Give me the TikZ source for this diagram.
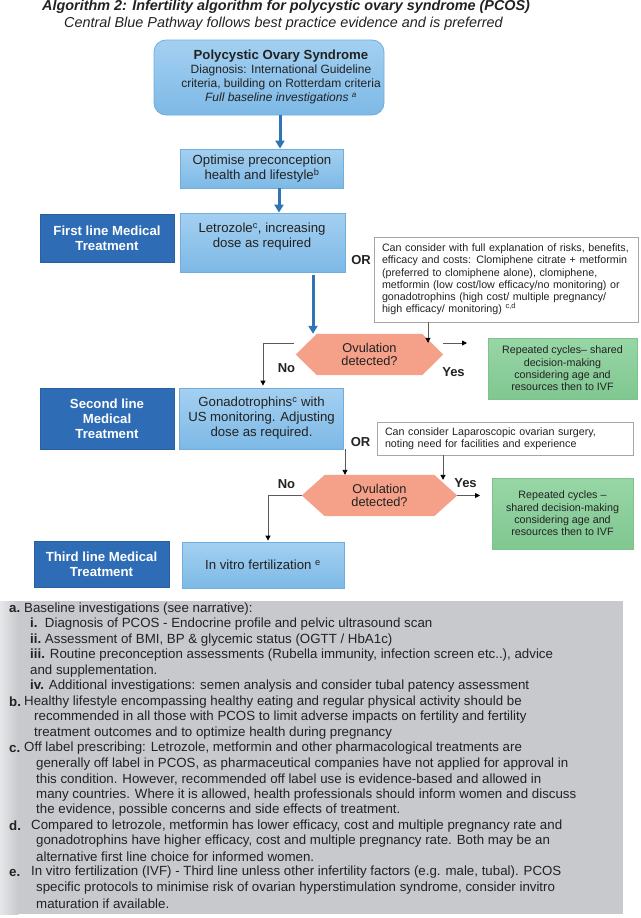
\documentclass[tikz,border=0pt]{standalone}
\usepackage{fontspec}
\setmainfont{Liberation Sans}
\usetikzlibrary{arrows.meta,backgrounds,calc}
\definecolor{lbtop}{HTML}{A4D0F1}
\definecolor{lbbot}{HTML}{7DB9E6}
\definecolor{lbdraw}{HTML}{6FAEDF}
\definecolor{dblue}{HTML}{2E6DB6}
\definecolor{dbdraw}{HTML}{2A609F}
\definecolor{hexfill}{HTML}{F5A089}
\definecolor{gtop}{HTML}{98D6A6}
\definecolor{gbot}{HTML}{80C791}
\definecolor{gdraw}{HTML}{7CC38C}
\definecolor{arrblue}{HTML}{2F75B5}
\definecolor{txt}{HTML}{222222}
\definecolor{notedraw}{HTML}{A6A6A6}
\definecolor{fngray}{HTML}{C7C9CD}
\definecolor{fnlight}{HTML}{E6E7E9}
\definecolor{thinline}{HTML}{5A5A5A}
\newcommand\fsz[2]{\fontsize{#1}{#2}\selectfont}
\begin{document}
\begin{tikzpicture}[x=1pt,y=-1pt,
 every node/.style={inner sep=0pt, text=txt},
 lbox/.style={draw=lbdraw, line width=0.8pt, top color=lbtop, bottom color=lbbot, rectangle},
 dbox/.style={draw=dbdraw, line width=0.8pt, fill=dblue, text=white, align=center, font=\fsz{13.2}{15}\bfseries},
 notebox/.style={draw=notedraw, line width=0.7pt, fill=white, align=left, font=\fsz{10.7}{12.2}},
 gbox/.style={draw=gdraw, line width=0.7pt, top color=gtop, bottom color=gbot, align=center, font=\fsz{10.7}{12.3}},
 boxtext/.style={align=center, font=\fsz{13.2}{15}},
 hexnode/.style={align=center, font=\fsz{12.8}{13.5}},
 lbl/.style={font=\fsz{13}{14}\bfseries},
 bluearr/.style={draw=arrblue, line width=3pt, -{Triangle[length=8pt,width=9pt]}},
 thinarr/.style={draw=thinline, line width=0.9pt, -{Triangle[length=5pt,width=5pt,color=black]}},
 fnt/.style={anchor=west, font=\fsz{13.3}{15}}
]
\useasboundingbox (0,0) rectangle (640,918);

% titles
\node[anchor=west, font=\fsz{14.4}{17}\bfseries\itshape] (title1) at (42,7) {Algorithm 2: Infertility algorithm for polycystic ovary syndrome (PCOS)};
\node[anchor=west, font=\fsz{14.4}{17}\itshape] (title2) at (64,24) {Central Blue Pathway follows best practice evidence and is preferred};

% top box
\node[draw=lbdraw, line width=0.8pt, top color=lbtop, bottom color=lbbot, rounded corners=12pt, minimum width=230pt, minimum height=75pt] (top) at (269,77.5) {};
\node[align=center, font=\fsz{12}{14}] (toptext) at (281,77) {{\fsz{13.2}{14}\bfseries Polycystic Ovary Syndrome}\\Diagnosis: International Guideline\\criteria, building on Rotterdam criteria\\\textit{Full baseline investigations \textsuperscript{a}}};

% central light boxes
\node[lbox, minimum width=163pt, minimum height=39pt, boxtext] (opt) at (262,168.5) {Optimise preconception\\health and lifestyle\textsuperscript{b}};
\node[lbox, minimum width=165pt, minimum height=59pt] (letro) at (262.5,242.5) {};
\node[boxtext] (letrotext) at (262,236.5) {Letrozole\textsuperscript{c}, increasing\\dose as required};
\node[lbox, minimum width=164pt, minimum height=61pt, boxtext] (gonad) at (261.5,418.5) {Gonadotrophins\textsuperscript{c} with\\US monitoring. Adjusting\\dose as required.};
\node[lbox, minimum width=162pt, minimum height=46pt, boxtext] (ivf) at (263,565) {In vitro fertilization \textsuperscript{e}};

% dark boxes
\node[dbox, minimum width=134pt, minimum height=48pt] (first) at (107,238) {First line Medical\\Treatment};
\node[dbox, minimum width=134pt, minimum height=61pt] (second) at (107,418.5) {Second line\\Medical\\Treatment};
\node[dbox, minimum width=135pt, minimum height=46pt] (third) at (101.5,564) {Third line Medical\\Treatment};

% note boxes
\node[notebox, text width=248pt, inner xsep=8pt, minimum height=85pt] (note1) at (506,279.5) {Can consider with full explanation of risks, benefits,\\efficacy and costs: Clomiphene citrate + metformin\\(preferred to clomiphene alone), clomiphene,\\metformin (low cost/low efficacy/no monitoring) or\\gonadotrophins (high cost/ multiple pregnancy/\\high efficacy/ monitoring) \textsuperscript{c,d}};
\node[notebox, text width=240pt, inner xsep=8pt, minimum height=33pt] (note2) at (505,438.5) {Can consider Laparoscopic ovarian surgery,\\noting need for facilities and experience};

% green boxes
\node[gbox, minimum width=149pt, minimum height=61pt] (green1) at (562.5,368.5) {Repeated cycles-- shared\\decision-making\\considering age and\\resources then to IVF};
\node[gbox, minimum width=141pt, minimum height=71pt] (green2) at (562.5,513.5) {Repeated cycles --\\shared decision-making\\considering age and\\resources then to IVF};

% hexagons
\node[hexnode, minimum width=147pt, minimum height=41pt] (hexa) at (369.5,354.5) {Ovulation\\detected?};
\node[hexnode, minimum width=155pt, minimum height=41pt] (hexb) at (379.5,495.5) {Ovulation\\detected?};
\begin{scope}[on background layer]
\fill[hexfill] ([xshift=21pt]hexa.north west) -- ([xshift=-21pt]hexa.north east) -- (hexa.east) -- ([xshift=-21pt]hexa.south east) -- ([xshift=21pt]hexa.south west) -- (hexa.west) -- cycle;
\fill[hexfill] ([xshift=23pt]hexb.north west) -- ([xshift=-23pt]hexb.north east) -- (hexb.east) -- ([xshift=-23pt]hexb.south east) -- ([xshift=23pt]hexb.south west) -- (hexb.west) -- cycle;
\end{scope}

% labels
\node[lbl] (or1) at (361,260) {OR};
\node[lbl] (or2) at (360.5,442) {OR};
\node[lbl] (no1) at (286.5,368) {No};
\node[lbl] (yes1) at (453.5,372) {Yes};
\node[lbl] (no2) at (286.5,484) {No};
\node[lbl] (yes2) at (465.5,483) {Yes};

% connector helper coordinates
\coordinate (c1) at (280,0);
\coordinate (c2) at (279,0);
\coordinate (c3) at (313,0);
\coordinate (c4) at (428,0);
\coordinate (c5) at (263,0);
\coordinate (c6) at (345,0);
\coordinate (c7) at (443,0);
\coordinate (c8) at (268,0);
\coordinate (n1s) at (294,343);
\coordinate (y1s) at (443,343);
\coordinate (y1e) at (467,343);
\coordinate (y2e) at (480,495.5);

% blue arrows
\draw[bluearr] (top.south -| c1) -- (opt.north -| c1);
\draw[bluearr] (opt.south -| c2) -- (letro.north -| c2);
\draw[bluearr] ([yshift=-3pt]letro.south -| c3) -- (hexa.north -| c3);

% thin arrows
\draw[thinarr] (note1.south -| c4) -- ([yshift=-9pt]hexa.north -| c4);
\draw[thinarr] (n1s) -| ([yshift=2pt]gonad.north -| c5);
\draw[thinarr] (y1s) -- (y1e);
\draw[thinarr] (gonad.south -| c6) -- (hexb.north -| c6);
\draw[thinarr] (note2.south -| c7) -- ([yshift=-5pt]hexb.north -| c7);
\draw[thinarr] (hexb.west) -| ([yshift=1pt]ivf.north -| c8);
\draw[thinarr] (hexb.east) -- (y2e);

% footnote panel
\fill[fngray] (0,601) rectangle (623,914);
\shade[left color=fnlight, right color=fngray] (0,601) rectangle (18,914);

\node[fnt] (fa) at (9,609) {\textbf{a.}};
\node[fnt] (fat) at (24,609) {Baseline investigations (see narrative):};
\node[fnt] (fai) at (30,624.5) {\textbf{i.}\ \ Diagnosis of PCOS - Endocrine profile and pelvic ultrasound scan};
\node[fnt] (faii) at (30,640) {\textbf{ii.}\ Assessment of BMI, BP \& glycemic status (OGTT / HbA1c)};
\node[fnt] (faiii) at (30,655.5) {\textbf{iii.} Routine preconception assessments (Rubella immunity, infection screen etc..), advice};
\node[fnt] (faiiib) at (30,671) {and supplementation.};
\node[fnt] (faiv) at (30,686.5) {\textbf{iv.} Additional investigations: semen analysis and consider tubal patency assessment};
\node[fnt] (fb) at (9,702) {\textbf{b.}};
\node[fnt] (fbt) at (24,702) {Healthy lifestyle encompassing healthy eating and regular physical activity should be};
\node[fnt] (fb2) at (34,717.5) {recommended in all those with PCOS to limit adverse impacts on fertility and fertility};
\node[fnt] (fb3) at (34,733) {treatment outcomes and to optimize health during pregnancy};
\node[fnt] (fc) at (9,748.5) {\textbf{c.}};
\node[fnt] (fct) at (24,748.5) {Off label prescribing: Letrozole, metformin and other pharmacological treatments are};
\node[fnt] (fc2) at (36,764) {generally off label in PCOS, as pharmaceutical companies have not applied for approval in};
\node[fnt] (fc3) at (36,779.5) {this condition. However, recommended off label use is evidence-based and allowed in};
\node[fnt] (fc4) at (36,795) {many countries. Where it is allowed, health professionals should inform women and discuss};
\node[fnt] (fc5) at (36,810.5) {the evidence, possible concerns and side effects of treatment.};
\node[fnt] (fd) at (9,826) {\textbf{d.}};
\node[fnt] (fdt) at (31,826) {Compared to letrozole, metformin has lower efficacy, cost and multiple pregnancy rate and};
\node[fnt] (fd2) at (36,841.5) {gonadotrophins have higher efficacy, cost and multiple pregnancy rate. Both may be an};
\node[fnt] (fd3) at (36,857) {alternative first line choice for informed women.};
\node[fnt] (fe) at (9,872.5) {\textbf{e.}};
\node[fnt] (fet) at (31,872.5) {In vitro fertilization (IVF) - Third line unless other infertility factors (e.g. male, tubal). PCOS};
\node[fnt] (fe2) at (36,888) {specific protocols to minimise risk of ovarian hyperstimulation syndrome, consider invitro};
\node[fnt] (fe3) at (36,903.5) {maturation if available.};
\end{tikzpicture}
\end{document}
